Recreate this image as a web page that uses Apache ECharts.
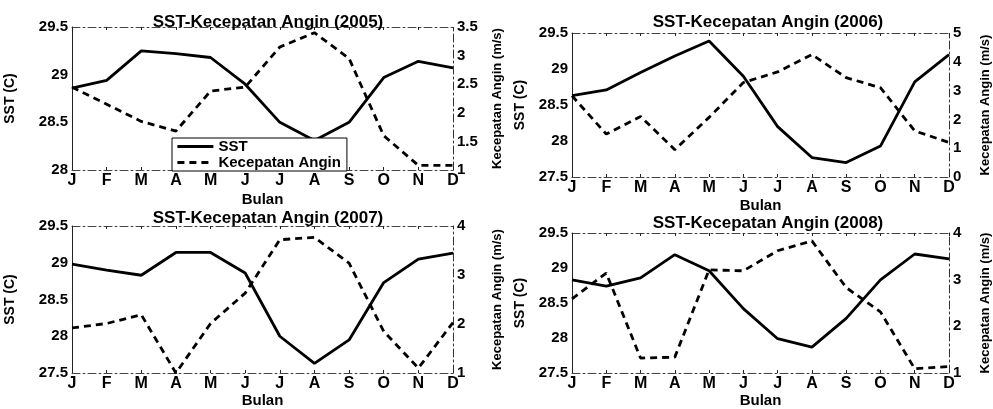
<!DOCTYPE html>
<html>
<head>
<meta charset="utf-8">
<script src="https://cdn.jsdelivr.net/npm/echarts@6/dist/echarts.min.js"></script>
<style>html,body{margin:0;padding:0;background:#fff}#c{width:993px;height:409px}</style>
</head>
<body>
<div id="c"></div>
<script>
const months = ['J','F','M','A','M','J','J','A','S','O','N','D'];
const titles = ['SST-Kecepatan Angin (2005)','SST-Kecepatan Angin (2006)','SST-Kecepatan Angin (2007)','SST-Kecepatan Angin (2008)'];

const sst2005  = [28.86, 28.94, 29.25, 29.22, 29.18, 28.90, 28.50, 28.31, 28.50, 28.97, 29.14, 29.07];
const wind2005 = [2.45, 2.15, 1.85, 1.68, 2.38, 2.45, 3.15, 3.40, 2.95, 1.60, 1.08, 1.08];

const sst2006  = [28.63, 28.71, 28.95, 29.18, 29.39, 28.90, 28.20, 27.77, 27.70, 27.93, 28.82, 29.20];
const wind2006 = [2.82, 1.49, 2.10, 0.95, 2.07, 3.28, 3.65, 4.25, 3.45, 3.10, 1.60, 1.20];

const sst2007  = [28.98, 28.90, 28.83, 29.14, 29.14, 28.86, 28.00, 27.63, 27.95, 28.73, 29.05, 29.13];
const wind2007 = [1.92, 2.01, 2.19, 1.00, 2.01, 2.63, 3.72, 3.77, 3.24, 1.85, 1.10, 2.03];

const sst2008  = [28.83, 28.74, 28.86, 29.19, 28.96, 28.42, 27.99, 27.87, 28.28, 28.83, 29.20, 29.13];
const wind2008 = [2.59, 3.14, 1.32, 1.34, 3.21, 3.19, 3.62, 3.83, 2.83, 2.31, 1.09, 1.14];

const sstRanges  = [[28, 29.5, 0.5], [27.5, 29.5, 0.5], [27.5, 29.5, 0.5], [27.5, 29.5, 0.5]];
const windRanges = [[1, 3.5, 0.5], [0, 5, 1], [1, 4, 1], [1, 4, 1]];
const sstData = [sst2005, sst2006, sst2007, sst2008];
const windData = [wind2005, wind2006, wind2007, wind2008];

const FF = '"Liberation Sans", Arial, sans-serif';
const grids = [
  {left: 72, top: 27, width: 381, height: 143},
  {left: 572, top: 33, width: 381, height: 144},
  {left: 72, top: 226, width: 381, height: 147},
  {left: 572, top: 233, width: 380, height: 145}
];
const titlePos = [[263, 9], [763, 9], [263, 205], [763, 210]];
const bulanGap = [22, 21, 20, 20];

const borderLine = {color: '#444', width: 1, type: [8, 3, 2, 3]};
const xAxes = [], yAxes = [], series = [], title = [];
grids.forEach((g, i) => {
  title.push({text: titles[i], left: titlePos[i][0], top: titlePos[i][1], textAlign: 'center',
    textStyle: {fontFamily: FF, fontWeight: 'bold', fontSize: 17, color: '#000'}});
  xAxes.push({type: 'category', gridIndex: i, data: months, boundaryGap: false, position: 'bottom',
    name: 'Bulan', nameLocation: 'middle', nameGap: bulanGap[i],
    nameTextStyle: {fontFamily: FF, fontWeight: 'bold', fontSize: 15, color: '#000'},
    axisLine: {lineStyle: borderLine},
    axisTick: {inside: true, length: 3, lineStyle: {color: '#222'}},
    axisLabel: {fontFamily: FF, fontWeight: 'bold', fontSize: 16, color: '#000', margin: 3, interval: 0},
    splitLine: {show: false}});
  xAxes.push({type: 'category', gridIndex: i, data: months, boundaryGap: false, position: 'top',
    axisLine: {lineStyle: borderLine},
    axisTick: {inside: true, length: 3, lineStyle: {color: '#222'}},
    axisLabel: {show: false}, splitLine: {show: false}});
  const s = sstRanges[i], w = windRanges[i];
  yAxes.push({type: 'value', gridIndex: i, position: 'left', min: s[0], max: s[1], interval: s[2],
    name: 'SST (C)', nameLocation: 'middle', nameRotate: 90, nameGap: i % 2 ? 45 : 55,
    nameTextStyle: {fontFamily: FF, fontWeight: 'bold', fontSize: 14, color: '#000'},
    axisLine: {show: true, lineStyle: {color: '#222', width: 1}},
    axisTick: {inside: true, length: 3, lineStyle: {color: '#222'}},
    axisLabel: {fontFamily: FF, fontWeight: 'bold', fontSize: 15, color: '#000', margin: 4},
    splitLine: {show: false}});
  yAxes.push({type: 'value', gridIndex: i, position: 'right', min: w[0], max: w[1], interval: w[2],
    name: 'Kecepatan Angin (m/s)', nameLocation: 'middle', nameRotate: 90, nameGap: i % 2 ? 30 : 38,
    nameTextStyle: {fontFamily: FF, fontWeight: 'bold', fontSize: 13, color: '#000'},
    axisLine: {show: true, lineStyle: {color: '#333', width: 1, type: [8, 3, 2, 3]}},
    axisTick: {inside: true, length: 3, lineStyle: {color: '#222'}},
    axisLabel: {fontFamily: FF, fontWeight: 'bold', fontSize: 15, color: '#000', margin: 4},
    splitLine: {show: false}});
  series.push({name: 'SST', type: 'line', xAxisIndex: 2 * i, yAxisIndex: 2 * i, data: sstData[i],
    symbol: 'none', lineStyle: {color: '#000', width: 2.8}, itemStyle: {color: '#000'}, z: 3});
  series.push({name: 'Kecepatan Angin', type: 'line', xAxisIndex: 2 * i, yAxisIndex: 2 * i + 1, data: windData[i],
    symbol: 'none', lineStyle: {color: '#000', width: 2.8, type: [7, 5]}, itemStyle: {color: '#000'}, z: 3});
});

const chart = echarts.init(document.getElementById('c'), null, {renderer: 'canvas'});
chart.setOption({
  animation: false,
  backgroundColor: '#fff',
  title: title,
  grid: grids.map(g => Object.assign({containLabel: false}, g)),
  xAxis: xAxes,
  yAxis: yAxes,
  legend: {data: ['SST', 'Kecepatan Angin'], left: 172, top: 138, orient: 'vertical',
    backgroundColor: '#fff', borderColor: '#000', borderWidth: 1, borderRadius: 0,
    padding: [1, 6, 1, 4], itemGap: 1, itemWidth: 36, itemHeight: 14,
    itemStyle: {opacity: 0},
    lineStyle: {width: 2.8},
    textStyle: {fontFamily: FF, fontWeight: 'bold', fontSize: 15, color: '#000'}},
  series: series
});
</script>
</body>
</html>
